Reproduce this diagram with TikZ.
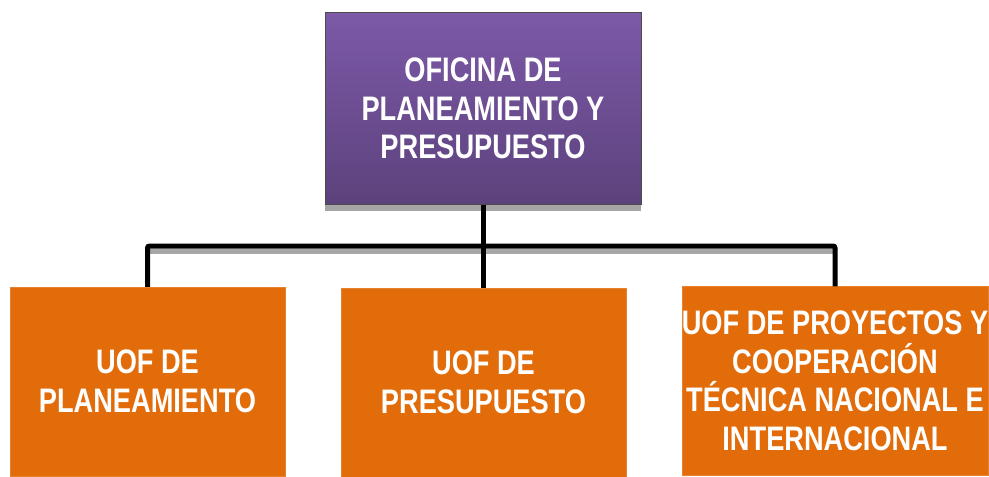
\documentclass[tikz,border=0pt]{standalone}
\usepackage{fontspec}
\setmainfont{Liberation Sans}[FakeStretch=0.8]
\usetikzlibrary{shadows}
\definecolor{uofOrange}{HTML}{E36C0A}
\definecolor{oppTop}{HTML}{7D59A8}
\definecolor{oppBottom}{HTML}{5C427C}

\begin{document}
\begin{tikzpicture}[x=1pt,y=-1pt]

\tikzstyle{every node}=[font=\fontsize{34}{38.5}\selectfont\bfseries,text=white,align=center,inner sep=0pt]
\tikzstyle{oppbox}=[draw=black!70,thin,top color=oppTop,bottom color=oppBottom,minimum width=316pt,minimum height=192pt,
                    drop shadow={shadow xshift=0pt,shadow yshift=-6pt,fill=black!35,opacity=1}]
\tikzstyle{uofbox}=[fill=uofOrange,draw=uofOrange!85!white,minimum height=189pt]
\tikzstyle{bus}=[line width=5pt,black,rounded corners=2pt]
\tikzstyle{busshadow}=[line width=5pt,black!35]

\useasboundingbox (0,0) rectangle (989,477);

\node[uofbox,minimum width=275pt] 	(planea) at (147.5,381.5) {UOF DE\\PLANEAMIENTO};
\node[uofbox,minimum width=285pt] 	(presup) at (483.5,382.5) {UOF DE\\PRESUPUESTO};
\node[uofbox,minimum width=304pt] 	(proyec) at (835,381)   {UOF DE PROYECTOS Y\\COOPERACIÓN\\TÉCNICA NACIONAL E\\INTERNACIONAL};

\coordinate (linea) at (483,246);

\draw[busshadow] ([yshift=-5pt]linea -| planea.north) -- ([yshift=-5pt,xshift=-2pt]linea -| proyec.north);
\draw[bus] (planea.north) |- (linea) -| (proyec.north);
\draw[bus] (presup.north -| linea) -- (linea);

\node[oppbox] 	(opp) at (483,108.5) {OFICINA DE\\PLANEAMIENTO Y\\PRESUPUESTO};
\draw[bus] (opp.south -| linea) -- (linea);

\end{tikzpicture}
\end{document}
